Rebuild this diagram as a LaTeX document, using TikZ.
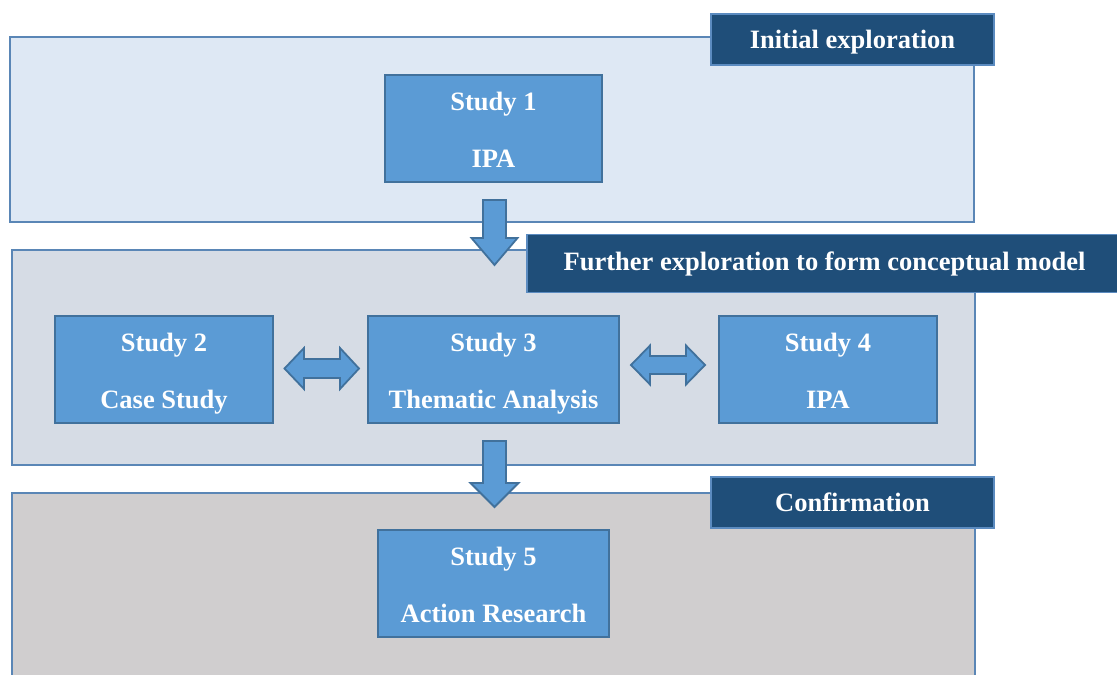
\documentclass[tikz,border=0pt]{standalone}
\usepackage{fontspec}
\setmainfont{Liberation Serif}
\usetikzlibrary{calc}
\definecolor{boxfill}{HTML}{5B9BD5}
\definecolor{boxline}{HTML}{41719C}
\definecolor{labfill}{HTML}{1F4E79}
\definecolor{labline}{HTML}{5B8BC0}
\definecolor{panline}{HTML}{5A86B6}
\definecolor{panA}{HTML}{DEE8F4}
\definecolor{panB}{HTML}{D6DCE5}
\definecolor{panC}{HTML}{D0CECF}
\tikzset{
  panel/.style={draw=panline, line width=1.8pt, rectangle, inner sep=0pt},
  tag/.style={draw=labline, fill=labfill, line width=1.8pt, rectangle, inner sep=0pt,
    text=white, font=\fontsize{26.5}{30}\selectfont\bfseries},
  tagtext/.style={inner sep=0pt, anchor=base, text=white, font=\fontsize{26.5}{30}\selectfont\bfseries},
  studybox/.style={draw=boxline, fill=boxfill, line width=1.8pt, rectangle, inner sep=0pt,
    minimum height=107pt},
  studytext/.style={inner sep=0pt, anchor=base, text=white, font=\fontsize{26.5}{30}\selectfont\bfseries},
  blockarrow/.style={draw=boxline, fill=boxfill, line width=1.8pt, line join=miter}
}
\newcommand{\twolines}[3]{%
  \node[studytext] at ($(#1.center)+(0,-18.5)$) {#2};
  \node[studytext] at ($(#1.center)+(0,38.5)$) {#3};}
\begin{document}
\begin{tikzpicture}[x=1pt,y=-1pt]
\clip (0,0) rectangle (1117,675);
\fill[white] (0,0) rectangle (1117,675);
% panels
\node[panel, fill=panA, minimum width=964pt, minimum height=185pt] (p1) at (492,129.5) {};
\node[panel, fill=panB, minimum width=963pt, minimum height=215pt] (p2) at (493.5,357.5) {};
\node[panel, fill=panC, minimum width=963pt, minimum height=220pt] (p3) at (493.5,603) {};
% study boxes
\node[studybox, minimum width=217pt] (s1) at (493.5,128.5) {};
\node[studybox, minimum width=218pt] (s2) at (164,369.5) {};
\node[studybox, minimum width=251pt] (s3) at (493.5,369.5) {};
\node[studybox, minimum width=218pt] (s4) at (828,369.5) {};
\node[studybox, minimum width=231pt] (s5) at (493.5,583.5) {};
\twolines{s1}{Study 1}{IPA}
\twolines{s2}{Study 2}{Case Study}
\twolines{s3}{Study 3}{Thematic Analysis}
\twolines{s4}{Study 4}{IPA}
\twolines{s5}{Study 5}{Action Research}
% block arrows
\draw[blockarrow] (483,200) -- (506,200) -- (506,238) -- (517.5,238) -- (494.5,265)
  -- (471.5,238) -- (483,238) -- cycle;
\draw[blockarrow] (483,441) -- (506,441) -- (506,483) -- (518.5,483) -- (494.5,507)
  -- (470.5,483) -- (483,483) -- cycle;
\draw[blockarrow] (284.5,368.5) -- (304,348) -- (304,359) -- (340,359) -- (340,348)
  -- (359,368.5) -- (340,389) -- (340,378) -- (304,378) -- (304,389) -- cycle;
\draw[blockarrow] (631,365) -- (650,345.5) -- (650,356) -- (686,356) -- (686,345.5)
  -- (705,365) -- (686,384.5) -- (686,374) -- (650,374) -- (650,384.5) -- cycle;
% tags
\node[tag, minimum width=283pt, minimum height=51pt] (t1) at (852.5,39.5) {};
\node[tagtext] at ($(t1.center)+(0,8.5)$) {Initial exploration};
\node[tag, minimum width=600pt, minimum height=58pt, anchor=west] (t2) at (526,263.5) {};
\node[tagtext] at (824.5,270) {Further exploration to form conceptual model};
\node[tag, minimum width=283pt, minimum height=51pt] (t3) at (852.5,502.5) {};
\node[tagtext] at ($(t3.center)+(0,9)$) {Confirmation};
\end{tikzpicture}
\end{document}
